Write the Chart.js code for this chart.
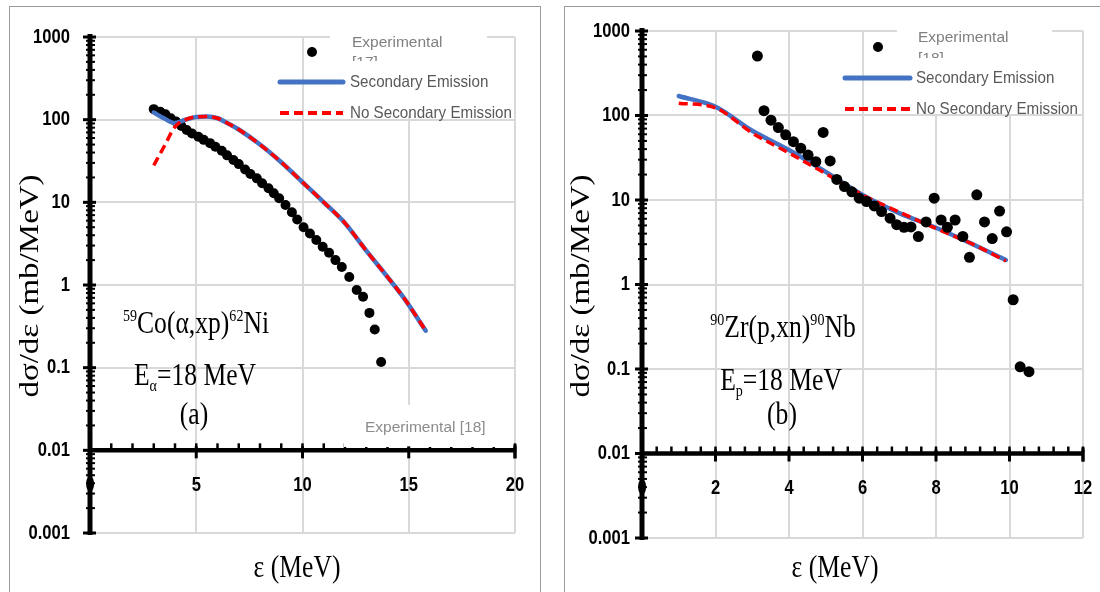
<!DOCTYPE html>
<html>
<head>
<meta charset="utf-8">
<script src="https://cdn.jsdelivr.net/npm/chart.js@4/dist/chart.umd.min.js"></script>
<style>
  html, body { margin: 0; padding: 0; background: #fff; }
  body { width: 1100px; height: 592px; position: relative; overflow: hidden; }
  .frame { position: absolute; top: 6px; height: 600px; border: 1px solid #9a9a9a; border-bottom: none; }
  canvas { position: absolute; top: 0; }
</style>
</head>
<body>
<div class="frame" style="left:9px; width:530px"></div>
<div class="frame" style="left:564px; width:540px"></div>
<canvas id="coChart" width="550" height="592" style="left:0"></canvas>
<canvas id="zrChart" width="550" height="592" style="left:550px"></canvas>
<script>
// y axis decades and their labels (shared by both panels)
const yDecades = [0.001, 0.01, 0.1, 1, 10, 100, 1000];
const yTickLabels = ['0.001', '0.01', '0.1', '1', '10', '100', '1000'];
const seriesNames = ['Experimental', 'Secondary Emission', 'No Secondary Emission'];

// (a) 59Co(a,xp)62Ni, Ea = 18 MeV
const coExpE = [3.0, 3.3, 3.55, 3.8, 4.05, 4.3, 4.55, 4.8, 5.1, 5.35, 5.65, 5.9, 6.2, 6.45, 6.75, 7.0, 7.3, 7.55, 7.85, 8.1,
  8.4, 8.65, 8.9, 9.2, 9.5, 9.75, 10.05, 10.35, 10.65, 10.95, 11.25, 11.55, 11.85, 12.2, 12.55, 12.85, 13.15, 13.4, 13.7];
const coExpXs = [134, 125, 116, 104, 95, 84, 75, 68, 62, 57, 52, 47, 42, 37, 32.5, 29, 25, 22, 19.5, 17,
  14.8, 12.9, 11.2, 9.3, 7.6, 6.2, 5.0, 4.2, 3.5, 2.9, 2.45, 2.0, 1.65, 1.25, 0.87, 0.72, 0.46, 0.29, 0.117];
const coSecE = [3, 3.5, 4, 4.5, 5, 5.5, 6, 6.5, 7, 8, 9, 10, 11, 12, 13, 14, 14.8, 15.8];
const coSecXs = [122, 103, 91, 100, 108, 109, 104, 90, 76, 50, 30.5, 17.5, 10, 5.6, 2.6, 1.25, 0.68, 0.28];
const coNoSecE = [3, 3.5, 4, 4.5, 5, 5.5, 6, 6.5, 7, 8, 9, 10, 11, 12, 13, 14, 14.8, 15.8];
const coNoSecXs = [28, 48, 82, 100, 108, 109, 104, 90, 76, 50, 30.5, 17.5, 10, 5.6, 2.6, 1.25, 0.68, 0.28];

// (b) 90Zr(p,xn)90Nb, Ep = 18 MeV
const zrExpE = [3.14, 3.32, 3.51, 3.71, 3.91, 4.12, 4.32, 4.52, 4.73, 4.93, 5.12, 5.30, 5.51, 5.71, 5.91, 6.11, 6.32, 6.52, 6.75,
  6.93, 7.13, 7.32, 7.52, 7.73, 7.95, 8.14, 8.31, 8.52, 8.73, 8.91, 9.11, 9.32, 9.53, 9.73, 9.92, 10.1, 10.29, 10.53];
const zrExpXs = [505, 114, 88, 72, 59, 49, 41, 34, 28.4, 63, 29, 17.5, 14.4, 12.5, 10.5, 9.6, 8.5, 7.3, 6.1,
  5.1, 4.75, 4.8, 3.7, 5.5, 10.5, 5.8, 4.75, 5.8, 3.7, 2.1, 11.5, 5.5, 3.5, 7.4, 4.2, 0.66, 0.106, 0.093];
const zrSecE = [1, 2, 3, 4, 5, 6, 7, 8, 9, 9.9];
const zrSecXs = [170, 127, 66, 39, 21.5, 11.5, 7.0, 4.7, 3.0, 1.95];
const zrNoSecE = [1, 2, 3, 4, 5, 6, 7, 8, 9, 9.9];
const zrNoSecXs = [140, 123, 62, 36, 20.5, 11.5, 7.2, 4.6, 3.0, 1.9];

const tickFont = 'bold 21px "Liberation Sans", Arial, sans-serif';
const serif = '"Liberation Serif", "Times New Roman", serif';

function pts(xs, ys) {
  return xs.map((x, i) => ({ x: x, y: ys[i] }));
}

function isDecade(v) {
  const l = Math.log10(v);
  return Math.abs(l - Math.round(l)) < 1e-6;
}

// text squeezed horizontally by sx
function drawText(ctx, str, x, y, font, color, align, sx) {
  ctx.save();
  ctx.font = font;
  ctx.fillStyle = color;
  ctx.textAlign = align;
  ctx.textBaseline = 'middle';
  ctx.translate(x, y);
  ctx.scale(sx, 1);
  ctx.fillText(str, 0, 0);
  ctx.restore();
}

// one line of serif text with super/subscript runs, centred on cx
function drawRich(ctx, parts, cx, baseline, size, sx) {
  ctx.save();
  const fonts = parts.map(p => (p[1] ? size * 0.55 : size) + 'px ' + serif);
  let total = 0;
  const widths = parts.map((p, i) => {
    ctx.font = fonts[i];
    const w = ctx.measureText(p[0]).width;
    total += w;
    return w;
  });
  ctx.translate(cx - total * sx / 2, baseline);
  ctx.scale(sx, 1);
  ctx.fillStyle = '#000';
  ctx.textAlign = 'left';
  ctx.textBaseline = 'alphabetic';
  let x = 0;
  parts.forEach((p, i) => {
    ctx.font = fonts[i];
    const dy = p[1] === 'sup' ? -size * 0.36 : p[1] === 'sub' ? size * 0.2 : 0;
    ctx.fillText(p[0], x, dy);
    x += widths[i];
  });
  ctx.restore();
}

function seg(ctx, x1, y1, x2, y2) {
  ctx.beginPath();
  ctx.moveTo(x1, y1);
  ctx.lineTo(x2, y2);
  ctx.stroke();
}

// axes, labels, legend and notes drawn on top of the plot
function makeFramePlugin(cfg) {
  return {
    id: 'frame',
    afterDraw(chart) {
      const ctx = chart.ctx;
      const xs = chart.scales.x, ys = chart.scales.y;
      const ax = xs.getPixelForValue(0);
      const ay = ys.getPixelForValue(0.01);
      const top = ys.getPixelForValue(ys.max), bottom = ys.getPixelForValue(ys.min);
      const right = xs.getPixelForValue(xs.max);
      const lg = cfg.legend;
      ctx.save();

      // legend background patches
      ctx.fillStyle = '#fff';
      lg.boxes.forEach(b => ctx.fillRect(b[0], b[1], b[2], b[3]));

      // tick labels
      yDecades.forEach((v, i) => drawText(ctx, yTickLabels[i], ax - cfg.labelGap, ys.getPixelForValue(v), tickFont, '#000', 'right', 0.79));
      xs.ticks.forEach(t => drawText(ctx, String(t.value), xs.getPixelForValue(t.value), ay + 35, tickFont, '#000', 'center', 0.79));

      // minor ticks above the x axis
      ctx.strokeStyle = '#000';
      ctx.lineWidth = 2.5;
      for (let k = 0; k * cfg.xMinor <= xs.max + 1e-9; k++) {
        const px = xs.getPixelForValue(k * cfg.xMinor);
        seg(ctx, px, ay - 7, px, ay);
      }

      if (cfg.noteBox) {
        const b = cfg.noteBox;
        ctx.fillStyle = '#fff';
        ctx.fillRect(b[0], b[1], b[2], b[3]);
        drawText(ctx, b[4], b[5], b[6], '15.5px "Liberation Sans", Arial, sans-serif', '#8c8c8c', 'left', 1);
      }

      // x axis through 0.01
      ctx.strokeStyle = '#000';
      ctx.lineWidth = 4.5;
      seg(ctx, ax, ay, right, ay);
      ctx.lineWidth = 3;
      xs.ticks.forEach(t => {
        const px = xs.getPixelForValue(t.value);
        seg(ctx, px, ay - 4, px, ay + 8);
      });
      seg(ctx, right, ay - 6, right, ay + 8);

      // y axis with log ticks
      ctx.lineWidth = 2;
      for (let e = -3; e < 3; e++) {
        for (let k = 2; k <= 9; k++) {
          const py = ys.getPixelForValue(k * Math.pow(10, e));
          seg(ctx, ax - 4, py, ax + 5, py);
        }
      }
      ctx.lineWidth = 3;
      yDecades.forEach(v => {
        const py = ys.getPixelForValue(v);
        seg(ctx, ax - 7, py, ax + 6, py);
      });
      ctx.lineWidth = 5;
      seg(ctx, ax, top - 3, ax, bottom + 2);

      // axis titles
      ctx.save();
      ctx.translate(cfg.yTitle[0], cfg.yTitle[1]);
      ctx.rotate(-Math.PI / 2);
      ctx.scale(1, 0.8);
      ctx.font = '33px ' + serif;
      ctx.fillStyle = '#000';
      ctx.textAlign = 'center';
      ctx.textBaseline = 'middle';
      ctx.fillText('dσ/dε (mb/MeV)', 0, 0);
      ctx.restore();
      drawRich(ctx, [['ε (MeV)', '']], cfg.xTitle[0], cfg.xTitle[1], 32, 0.8);

      // reaction notes
      cfg.notes.forEach(n => drawRich(ctx, n.parts, n.x, n.y, 32, 0.8));

      // legend
      ctx.fillStyle = '#000';
      ctx.beginPath();
      ctx.arc(lg.dot[0], lg.dot[1], 5, 0, Math.PI * 2);
      ctx.fill();
      ctx.lineCap = 'round';
      ctx.strokeStyle = '#4472c4';
      ctx.lineWidth = 5;
      seg(ctx, lg.lineX[0], lg.rows[0], lg.lineX[1], lg.rows[0]);
      ctx.lineCap = 'butt';
      ctx.strokeStyle = '#ff0000';
      ctx.lineWidth = 4;
      ctx.setLineDash([9, 5]);
      seg(ctx, lg.lineX[0], lg.rows[1], lg.lineX[1], lg.rows[1]);
      ctx.setLineDash([]);
      const legFont = '16.5px "Liberation Sans", Arial, sans-serif';
      drawText(ctx, seriesNames[1], lg.textX, lg.rows[0], legFont, '#595959', 'left', 0.92);
      drawText(ctx, seriesNames[2], lg.textX, lg.rows[1], legFont, '#595959', 'left', 0.92);
      const expFont = '15.5px "Liberation Sans", Arial, sans-serif';
      drawText(ctx, seriesNames[0], lg.expX, lg.expY, expFont, '#808080', 'left', 1);
      ctx.save();
      ctx.beginPath();
      ctx.rect(lg.expX - 2, lg.expY + 8, 60, lg.clipY - lg.expY - 8);
      ctx.clip();
      ctx.font = expFont;
      ctx.fillStyle = '#808080';
      ctx.textBaseline = 'alphabetic';
      ctx.fillText(lg.ref, lg.expX, lg.refY);
      ctx.restore();

      ctx.restore();
    }
  };
}

function makeChart(id, cfg, sets) {
  const pointSet = {
    label: seriesNames[0], data: pts(sets.expE, sets.expXs), showLine: false,
    pointRadius: cfg.dotR, pointBackgroundColor: '#000', pointBorderWidth: 0, order: cfg.dotOrder
  };
  const secSet = {
    label: seriesNames[1], type: 'line', data: pts(sets.secE, sets.secXs), borderColor: '#4472c4',
    borderWidth: 4.5, pointRadius: 0, cubicInterpolationMode: 'monotone', borderCapStyle: 'round', order: cfg.secOrder
  };
  const noSecSet = {
    label: seriesNames[2], type: 'line', data: pts(sets.noSecE, sets.noSecXs), borderColor: '#ff0000',
    borderWidth: 3.5, borderDash: [9, 5], pointRadius: 0, cubicInterpolationMode: 'monotone', order: cfg.noSecOrder
  };
  return new Chart(document.getElementById(id), {
    type: 'scatter',
    data: { datasets: [pointSet, secSet, noSecSet] },
    options: {
      responsive: false,
      animation: false,
      devicePixelRatio: 1,
      events: [],
      layout: { padding: cfg.padding },
      plugins: { legend: { display: false }, tooltip: { enabled: false } },
      scales: {
        x: {
          type: 'linear', min: 0, max: cfg.xMax,
          ticks: { display: false, stepSize: cfg.xStep },
          grid: { color: '#d9d9d9', lineWidth: 2, drawTicks: false },
          border: { display: false },
          afterFit: s => { s.height = 0; }
        },
        y: {
          type: 'logarithmic', min: 0.001, max: 1000,
          ticks: { display: false },
          grid: {
            color: c => (c.tick && isDecade(c.tick.value)) ? '#d9d9d9' : 'rgba(0,0,0,0)',
            lineWidth: 2, drawTicks: false
          },
          border: { display: false },
          afterFit: s => { s.width = 0; }
        }
      }
    },
    plugins: [makeFramePlugin(cfg)]
  });
}

makeChart('coChart', {
  padding: { left: 90, right: 35, top: 37, bottom: 59 },
  xMax: 20, xStep: 5, xMinor: 1, labelGap: 20,
  dotR: 5, dotOrder: 2, secOrder: 1, noSecOrder: 0,
  yTitle: [31, 286], xTitle: [297, 577],
  notes: [
    { parts: [['59', 'sup'], ['Co(α,xp)', ''], ['62', 'sup'], ['Ni', '']], x: 196, y: 333 },
    { parts: [['E', ''], ['α', 'sub'], ['=18 MeV', '']], x: 195, y: 385 },
    { parts: [['(a)', '']], x: 194, y: 424 }
  ],
  noteBox: [344, 405, 161, 42, 'Experimental [18]', 365, 428],
  legend: {
    boxes: [[330, 29, 157, 32], [347, 61, 165, 55]],
    dot: [312, 52], lineX: [280, 343], rows: [82, 113], textX: 350,
    expX: 352, expY: 43, ref: '[17]', refY: 67, clipY: 61
  }
}, { expE: coExpE, expXs: coExpXs, secE: coSecE, secXs: coSecXs, noSecE: coNoSecE, noSecXs: coNoSecXs });

makeChart('zrChart', {
  padding: { left: 92, right: 17, top: 31, bottom: 54 },
  xMax: 12, xStep: 2, xMinor: 0.4, labelGap: 12,
  dotR: 5.5, dotOrder: 0, secOrder: 2, noSecOrder: 1,
  yTitle: [32, 286], xTitle: [285, 577],
  notes: [
    { parts: [['90', 'sup'], ['Zr(p,xn)', ''], ['90', 'sup'], ['Nb', '']], x: 233, y: 337 },
    { parts: [['E', ''], ['p', 'sub'], ['=18 MeV', '']], x: 231, y: 390 },
    { parts: [['(b)', '']], x: 232, y: 424 }
  ],
  noteBox: null,
  legend: {
    boxes: [[347, 24, 155, 34], [363, 58, 167, 56]],
    dot: [328, 47], lineX: [295, 360], rows: [78, 109], textX: 366,
    expX: 368, expY: 38, ref: '[18]', refY: 63, clipY: 58
  }
}, { expE: zrExpE, expXs: zrExpXs, secE: zrSecE, secXs: zrSecXs, noSecE: zrNoSecE, noSecXs: zrNoSecXs });
</script>
</body>
</html>
